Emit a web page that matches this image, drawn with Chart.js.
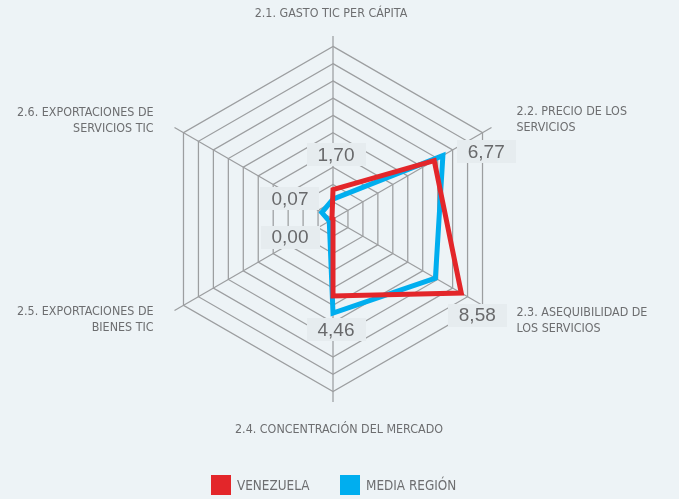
<!DOCTYPE html>
<html lang="es">
<head>
<meta charset="utf-8">
<title>Radar TIC Venezuela</title>
<script src="https://cdn.jsdelivr.net/npm/chart.js@4"></script>
<style>
  html, body { margin: 0; padding: 0; background: #edf3f6; }
  .wrap { position: relative; width: 679px; height: 499px; }
  canvas { display: block; }
  .legend { position: absolute; left: 0; top: 475px; width: 679px; height: 20px; }
  .legend-item { position: absolute; top: 0; height: 20px; display: flex; align-items: center;
    font: 13.4px "Liberation Sans Narrow", "DejaVu Sans Condensed", sans-serif; color: #6d6e70; }
  .legend-item i { display: inline-block; width: 20px; height: 20px; margin-right: 6px; }
</style>
</head>
<body>
<div class="wrap">
  <canvas id="radar" width="679" height="499"></canvas>
  <div class="legend" id="legend"></div>
</div>
<script>
// Ejes del radar (cada título va partido en líneas como en el original)
const categories = [
    ['2.1. GASTO TIC PER CÁPITA'],
    ['2.2. PRECIO DE LOS', 'SERVICIOS'],
    ['2.3. ASEQUIBILIDAD DE', 'LOS SERVICIOS'],
    ['2.4. CONCENTRACIÓN DEL MERCADO'],
    ['2.5. EXPORTACIONES DE', 'BIENES TIC'],
    ['2.6. EXPORTACIONES DE', 'SERVICIOS TIC']
];

const seriesNames = ['VENEZUELA', 'MEDIA REGIÓN'];
const venezuelaValues = [1.70, 6.77, 8.58, 4.46, 0.00, 0.07];
// la media regional no trae etiquetas: valores
const regionValues = [1.15, 7.35, 6.85, 5.45, 0.25, 0.75];
const seriesColors = ['#e3262a', '#00aeef'];

const valueTicks = [0, 1, 2, 3, 4, 5, 6, 7, 8, 9, 10];
const AXIS_MAX = 10.6;   // los radios sobresalen un poco del último anillo

const TEXT = '#6d6e70';
const NARROW = '"Liberation Sans Narrow", "DejaVu Sans Condensed", sans-serif';

/** Títulos de eje: desplazamiento respecto al extremo del radio */
const titlePlacement = [
    { dx: -2, dy: -22, align: 'center' },
    { dx: 25, dy: -16, align: 'left' },
    { dx: 25, dy: 2, align: 'left' },
    { dx: 6, dy: 28, align: 'center' },
    { dx: -21, dy: 1, align: 'right' },
    { dx: -21, dy: -15, align: 'right' }
];

/** Cajas con el valor de Venezuela: desplazamiento respecto al punto */
const valueBoxPlacement = [
    { dx: 3, dy: -35 },
    { dx: 52, dy: -9 },
    { dx: 16, dy: 22 },
    { dx: 3, dy: 34 },
    { dx: -43, dy: 18 },
    { dx: -42, dy: -20 }
];

const fmt = v => v.toFixed(2).replace('.', ',');

const titlesPlugin = {
    id: 'axisTitles',
    afterDraw(chart) {
        const scale = chart.scales.r;
        const ctx = chart.ctx;
        ctx.save();
        ctx.font = '12.4px ' + NARROW;
        ctx.fillStyle = TEXT;
        ctx.textBaseline = 'middle';
        categories.forEach((lines, i) => {
            const p = scale.getPointPositionForValue(i, scale.max);
            const place = titlePlacement[i];
            ctx.textAlign = place.align;
            lines.forEach((line, k) => {
                ctx.fillText(line, p.x + place.dx, p.y + place.dy + k * 16.5);
            });
        });
        ctx.restore();
    }
};

const valueBoxesPlugin = {
    id: 'valueBoxes',
    afterDatasetsDraw(chart) {
        const scale = chart.scales.r;
        const ctx = chart.ctx;
        ctx.save();
        ctx.font = '19px "Liberation Sans", "DejaVu Sans", sans-serif';
        ctx.textAlign = 'center';
        ctx.textBaseline = 'middle';
        venezuelaValues.forEach((v, i) => {
            const p = scale.getPointPositionForValue(i, v);
            const place = valueBoxPlacement[i];
            const x = p.x + place.dx;
            const y = p.y + place.dy;
            const text = fmt(v);
            const w = ctx.measureText(text).width + 22;
            const h = 23;
            ctx.fillStyle = '#e6ecef';
            ctx.fillRect(Math.round(x - w / 2), Math.round(y - h / 2), Math.round(w), h);
            ctx.fillStyle = '#68696b';
            ctx.fillText(text, x, y + 1);
        });
        ctx.restore();
    }
};

const chart = new Chart(document.getElementById('radar'), {
    type: 'radar',
    data: {
        labels: categories,
        datasets: [
            { label: seriesNames[0], data: venezuelaValues, borderColor: seriesColors[0] },
            { label: seriesNames[1], data: regionValues, borderColor: seriesColors[1] }
        ].map(ds => ({
            ...ds,
            backgroundColor: ds.borderColor,
            fill: false,
            borderWidth: 5,
            borderJoinStyle: 'miter',
            pointRadius: 0,
            pointHoverRadius: 0,
            tension: 0
        }))
    },
    options: {
        responsive: false,
        animation: false,
        layout: { padding: { left: 150, right: 163, top: 36, bottom: 97 } },
        plugins: {
            legend: { display: false },
            tooltip: { enabled: false }
        },
        scales: {
            r: {
                min: 0,
                max: AXIS_MAX,
                afterBuildTicks: scale => {
                    scale.ticks = valueTicks.map(value => ({ value }));
                },
                ticks: { display: false },
                pointLabels: { display: false },
                grid: { color: '#9c9ea0', lineWidth: 1.25 },
                angleLines: { color: '#9c9ea0', lineWidth: 1.25 }
            }
        }
    },
    plugins: [titlesPlugin, valueBoxesPlugin]
});

// Leyenda en HTML a partir de los mismos nombres y colores
const legend = document.getElementById('legend');
const legendLeft = [211, 340];
seriesNames.forEach((name, i) => {
    const item = document.createElement('div');
    item.className = 'legend-item';
    item.style.left = legendLeft[i] + 'px';
    const swatch = document.createElement('i');
    swatch.style.background = seriesColors[i];
    item.append(swatch, document.createTextNode(name));
    legend.appendChild(item);
});
</script>
</body>
</html>
